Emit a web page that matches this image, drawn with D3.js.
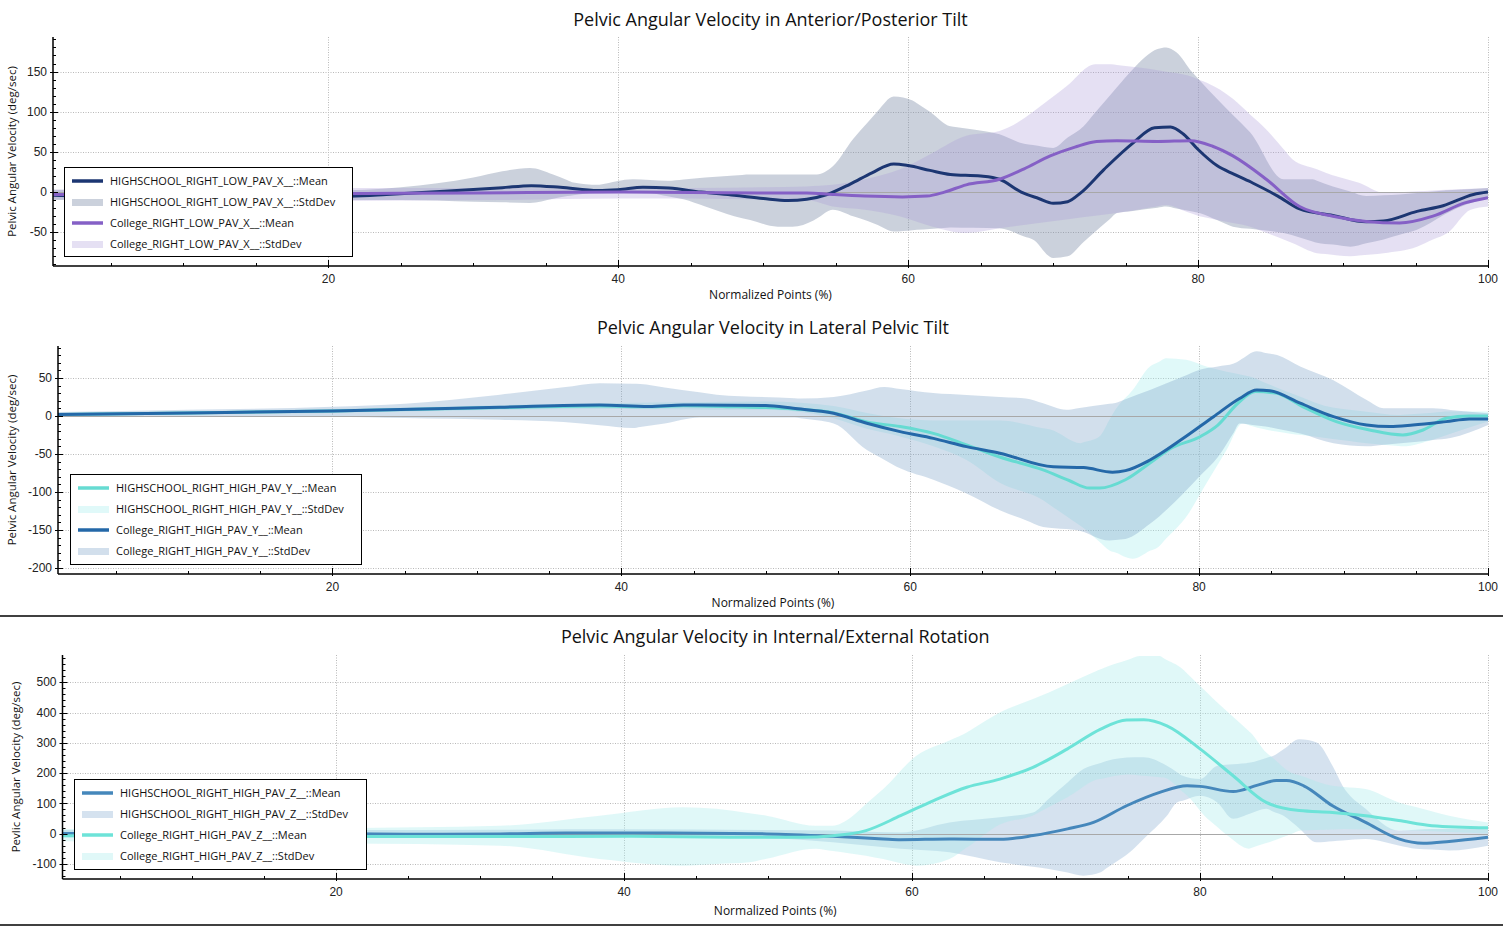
<!DOCTYPE html>
<html><head><meta charset="utf-8">
<script src="https://cdn.jsdelivr.net/npm/d3@7"></script>
<style>body{margin:0;background:#fff;} svg{display:block;}</style>
</head><body><svg id="c" width="1503" height="926"></svg>
<script>
// ---------- DATA (normalized point %, deg/sec) ----------
const xTicks = [20, 40, 60, 80, 100];

// Panel 1 : Anterior/Posterior Tilt
const p1HsMean = [[1,-4],[5,-6],[10,-7],[15,-7],[20,-6],[24,-3],[28,1],[32,5.5],[34,8],[36,6],[38.6,2],[40,3],[41.7,6],[43.5,5],[45.7,0],[48,-4],[50,-8],[51.7,-10.5],[53,-9],[54.4,-3],[56,10],[57.5,24],[59,35],[60,33],[61.5,27],[62.9,22],[65,20],[66.3,16],[67.8,0],[69,-8],[70,-14],[71,-12],[71.9,-1],[73.5,28],[75.5,61],[77,80],[78.1,81],[79,72],[80,53],[81.3,33],[82.5,22],[83.8,11],[85.5,-5],[87,-21],[89.3,-29],[91.6,-37],[92.8,-36],[95.1,-24],[96.9,-17],[99,-3],[100,0]];
const p1HsUpper = [[1,3],[10,3],[20,2],[25,6],[30,18],[32,26],[33.9,30],[35.5,22],[36.9,12],[38.6,9],[41,16],[43.4,14],[46,18],[49.1,22],[53.7,22],[54.8,32],[56.2,66],[57.9,101],[59,119],[60.3,114],[61.5,100],[62.9,82],[64.5,78],[66.3,72],[68,60],[70,55],[72.1,82],[73.9,120],[75.5,153],[77.2,178],[77.8,180],[78.5,174],[79.6,149],[81.3,116],[83.6,74],[85.9,16],[87.9,16],[89.3,7],[91.6,-5],[93.9,-3],[97,2],[100,5]];
const p1HsLower = [[1,-10],[10,-10],[20,-10],[25,-10],[30,-12],[33.9,-13.5],[36.5,-5],[38.8,1],[42.2,-1],[44.5,-9],[48,-30],[51,-43],[52,-43],[53.5,-35],[54.8,-22],[57.2,-36],[59,-49],[60.6,-47],[63,-44],[66.3,-45],[68.6,-59],[70,-82],[71,-80],[72.8,-51],[74.4,-26],[77.8,-18],[80.1,-26],[82.4,-43],[85.9,-51],[88.2,-63],[90.5,-68],[92.8,-59],[95.1,-47],[97.2,-26],[100,-7]];
const p1ColMean = [[1,-3],[10,-3],[20,-2],[30,-1],[40,0],[50,-1],[53,-1],[54.8,-3],[57,-5],[59.6,-6],[61.3,-5],[62.5,0],[64,9],[66.3,16],[68,29],[69.8,45],[71.5,56],[73,63],[74.4,64],[77.2,63],[79.5,64],[81,57],[82.4,45],[84.7,16],[87,-18],[89.3,-30],[91.6,-36.5],[93.9,-38.5],[96.2,-30],[98.4,-13.5],[100,-7]];
const p1ColUpper = [[1,3],[10,4],[20,5],[31.9,5],[40,4],[50,6],[53,7],[54.8,9],[57,16],[59.4,28],[61.7,49],[64,70],[66.3,76],[69.8,116],[72.9,159],[74,159],[76.8,153],[79.3,145],[80.6,136],[82.4,116],[84.7,78],[86.5,41],[88.8,24],[91.1,11.5],[92.8,-1],[96.2,2],[100,5]];
const p1ColLower = [[1,-9],[10,-10],[20,-11],[31.9,-10],[40,-8],[45,-8],[53,-10],[54.8,-18],[57,-22],[59.4,-30],[61.7,-43],[64,-51],[66.3,-45],[70.9,-34],[74.4,-26],[77.8,-16],[80.1,-30],[83.6,-43],[85.9,-59],[88.2,-76],[90.5,-80],[92.8,-76],[95.1,-68],[97.2,-51],[98.8,-22],[100,-18]];

// Panel 2 : Lateral Pelvic Tilt
const p2HsMean = [[1,2],[10,4],[20,6.5],[31.6,11],[38.5,13],[41.9,12],[44.3,13.5],[48,12],[50,11],[52,9],[54.7,4],[57,-8],[59.3,-14],[61.6,-23],[63.9,-38],[66.2,-54],[69.2,-71],[71,-85],[72.4,-95],[73.1,-95],[74.9,-84],[76.6,-62],[78,-43],[80.1,-27],[81.3,-12],[82.7,17],[83.9,32],[85.3,30],[87.2,12],[89.5,-7.5],[91.8,-18.5],[94.1,-25],[95.5,-18.5],[97.1,-3],[98.7,0],[100,0]];
const p2HsUpper = [[1,4],[10,6],[20,9],[31.6,14],[40,17],[45,18],[50,19],[54.7,13],[57,4],[59.3,-3],[61.6,-6],[63.9,-6],[66.2,-6],[69.7,-18],[71.8,-36],[73.1,-27],[74.2,8],[75.4,34],[76.6,65],[77.7,76],[79.1,74],[80.5,65],[81.9,58],[83.5,52],[85.8,34],[88.1,17],[90.4,8],[93.8,1.3],[97.3,5.7],[100,5.7]];
const p2HsLower = [[1,0],[10,2],[20,4],[31.6,8],[40,9],[50,8],[54.7,-3],[57,-17],[59.3,-27],[61.6,-40],[63.9,-58],[66.2,-88],[69.2,-111],[71.9,-146],[73.8,-177],[75.4,-188],[77.2,-172],[79.1,-133],[80.5,-89],[81.9,-45],[83,-10],[84.6,-18],[86.2,-23],[88,-27],[91.6,-36],[94.1,-40],[96.2,-31],[100,-7.5]];
const p2ColMean = [[1,2],[10,4],[20,6.5],[31.6,11.5],[38.5,14.5],[41.9,12.5],[44.3,14.5],[50,13.6],[51.9,10],[54.7,3.5],[57,-9.7],[59.3,-20.7],[61.6,-29.5],[63.9,-40.4],[66.2,-49],[69.9,-67],[72,-68],[74,-74],[74.9,-72],[76.6,-58],[78.9,-29.5],[81,-1],[82.8,23],[84,34],[84.9,33],[87,16.7],[89.3,-1],[91.6,-12],[93.2,-14],[94.8,-12],[97.1,-7.5],[98.7,-4],[100,-4]];
const p2ColUpper = [[1,5],[10,8],[20,12],[25,16],[31.6,28],[38.5,43],[41.3,42],[46.6,28],[52.4,23],[54.7,25],[58.2,38],[61.6,30],[66.2,25],[68,23],[70.8,8],[74.2,17],[76.6,34],[80.1,61],[82.4,69],[84,85],[85.4,80],[87,65],[89.3,47],[91.6,21],[92.8,10],[96.2,10],[100,3.5]];
const p2ColLower = [[1,-1],[10,-1],[20,-1],[31.6,-5],[36,-8],[40.8,-16],[43,-10],[45.4,-2],[52,-2],[54.7,-10],[57,-45],[59.3,-69],[61.6,-84],[63.9,-102],[66.2,-124],[69.2,-146],[71.5,-150],[73.8,-164],[74.9,-162],[76.6,-142],[78.9,-102],[81.3,-54],[82.8,-10],[84.6,-14],[87,-23],[89.3,-36],[91.6,-40],[95.1,-34],[97.4,-29],[100,-12]];

// Panel 3 : Internal/External Rotation
const p3HsMean = [[1,0],[10,0],[20,0],[25,-2],[31.4,-1],[36,2],[43,2],[49.9,-1],[54.5,-9],[58,-17.6],[59.2,-20],[62.6,-18],[66.1,-19],[68.4,-6.6],[70.8,15.5],[72.6,37],[74.9,92],[77.2,136],[79.1,158],[80,156],[82.3,139],[84,160],[85.3,175],[86,175],[87.2,158],[89.2,92],[91.5,37],[93.8,-17.5],[95.5,-32],[97.3,-26],[100,-12]];
const p3HsUpper = [[1,12],[10,12],[20,12],[31.4,13],[40,14],[50,12],[54.5,10],[57,6],[59.2,4],[62.6,37],[66.1,54],[68.4,70],[70.8,169],[71.9,213],[73.5,240],[75.4,252],[76.1,252],[77.7,224],[78.8,191],[80,180],[81.2,224],[83.5,235],[85.1,257],[86.9,312],[88.1,301],[89.2,224],[89.9,158],[91.5,82],[93.8,10],[96.1,15],[100,15]];
const p3HsLower = [[1,-12],[10,-12],[20,-12],[31.4,-14],[40,-11],[50,-15],[54.5,-29],[59.2,-50],[62.6,-62],[66.1,-95],[69.5,-117],[71.9,-139],[73.1,-128],[75.4,-50],[77.7,59],[78.4,103],[80,125],[81.2,103],[82.3,49],[84.6,82],[85.8,59],[88.1,-29],[91.5,-18],[95,-50],[97.3,-56],[100,-40]];
const p3ColMean = [[1,-7],[10,-8],[20,-10],[31.4,-10],[40.5,-9],[47.6,-12],[52.3,-12],[54.5,-7],[56.8,10],[59.2,59],[61.5,109],[63.8,153],[66.1,180],[68.4,219],[70.8,280],[73.1,345],[74.9,375],[76.1,376],[77.7,356],[80,280],[82.3,191],[84.6,103],[86.9,76],[89.2,70],[91.5,59],[93.8,43],[96.1,26],[100,19]];
const p3ColUpper = [[1,15],[10,15],[20,18],[31.4,26],[38.3,59],[44.1,87],[46.4,82],[49.9,59],[53.3,26],[54.5,26],[55.6,48],[58,147],[60.3,257],[63.8,334],[66.1,400],[69.5,466],[73.1,543],[75.8,587],[77.2,587],[78.8,543],[81.2,433],[83.5,334],[84.6,268],[86.3,202],[89.2,158],[91.5,147],[93.8,103],[97.3,59],[100,37]];
const p3ColLower = [[1,-25],[10,-28],[20,-32],[31.4,-40],[38.3,-84],[44.1,-106],[48.7,-95],[53.3,-50],[56.8,-73],[60.3,-106],[62.6,-84],[64,-40],[66.1,30],[68.4,60],[70.8,120],[73,180],[75,195],[77.5,185],[79,130],[80.5,50],[82,-10],[83.4,-50],[85,-25],[87,10],[90,15],[95,10],[100,0]];

const p1YTicks = [-50, 0, 50, 100, 150];
const p2YTicks = [-200, -150, -100, -50, 0, 50];
const p3YTicks = [-100, 0, 100, 200, 300, 400, 500];

// ---------- CONFIG ----------
const FONT = "'Open Sans', 'Noto Sans', sans-serif";
const panels = [
  { title: "Pelvic Angular Velocity in Anterior/Posterior Tilt",
    ylabel: "Pelvic Angular Velocity (deg/sec)",
    left: 53, right: 1488, top: 37, bottom: 266, yDomain: [-92, 193], yTicks: p1YTicks, yMinor: 10,
    titleY: 20, xlabelY: 295, ylabelX: 12,
    legend: { x: 64, y: 167, w: 288, h: 89 },
    items: [
      { name: "HIGHSCHOOL_RIGHT_LOW_PAV_X__::Mean", type: "line", data: p1HsMean, color: "#1c3672" },
      { name: "HIGHSCHOOL_RIGHT_LOW_PAV_X__::StdDev", type: "band", upper: p1HsUpper, lower: p1HsLower, color: "#7d8ca8", op: 0.4 },
      { name: "College_RIGHT_LOW_PAV_X__::Mean", type: "line", data: p1ColMean, color: "#8560c6" },
      { name: "College_RIGHT_LOW_PAV_X__::StdDev", type: "band", upper: p1ColUpper, lower: p1ColLower, color: "#a898d8", op: 0.3 }
    ] },
  { title: "Pelvic Angular Velocity in Lateral Pelvic Tilt",
    ylabel: "Pelvic Angular Velocity (deg/sec)",
    left: 58, right: 1488, top: 346, bottom: 574, yDomain: [-208, 92], yTicks: p2YTicks, yMinor: 10,
    titleY: 328, xlabelY: 603, ylabelX: 12,
    legend: { x: 70, y: 474, w: 291, h: 90 },
    items: [
      { name: "HIGHSCHOOL_RIGHT_HIGH_PAV_Y__::Mean", type: "line", data: p2HsMean, color: "#66dbd2" },
      { name: "HIGHSCHOOL_RIGHT_HIGH_PAV_Y__::StdDev", type: "band", upper: p2HsUpper, lower: p2HsLower, color: "#a0eeee", op: 0.33 },
      { name: "College_RIGHT_HIGH_PAV_Y__::Mean", type: "line", data: p2ColMean, color: "#2468a8" },
      { name: "College_RIGHT_HIGH_PAV_Y__::StdDev", type: "band", upper: p2ColUpper, lower: p2ColLower, color: "#7fa3c8", op: 0.35 }
    ] },
  { title: "Pelvic Angular Velocity in Internal/External Rotation",
    ylabel: "Pevlic Angular Velocity (deg/sec)",
    left: 62.5, right: 1488, top: 655, bottom: 879, yDomain: [-150, 590], yTicks: p3YTicks, yMinor: 20,
    titleY: 637, xlabelY: 911, ylabelX: 16,
    legend: { x: 74, y: 779, w: 292, h: 90 },
    items: [
      { name: "HIGHSCHOOL_RIGHT_HIGH_PAV_Z__::Mean", type: "line", data: p3HsMean, color: "#4587bb" },
      { name: "HIGHSCHOOL_RIGHT_HIGH_PAV_Z__::StdDev", type: "band", upper: p3HsUpper, lower: p3HsLower, color: "#8aaed4", op: 0.36 },
      { name: "College_RIGHT_HIGH_PAV_Z__::Mean", type: "line", data: p3ColMean, color: "#6de3d8" },
      { name: "College_RIGHT_HIGH_PAV_Z__::StdDev", type: "band", upper: p3ColUpper, lower: p3ColLower, color: "#a6ecea", op: 0.35 }
    ] }
];

// ---------- DRAW ----------
const svg = d3.select("#c");
svg.append("rect").attr("width", 1503).attr("height", 926).attr("fill", "#fff");

// separators
[616, 925].forEach(y => svg.append("line").attr("x1", 0).attr("x2", 1503).attr("y1", y).attr("y2", y)
  .attr("stroke", "#000").attr("stroke-width", 1.5));

function interp(arr, x) {
  const xs = arr.map(d => d[0]);
  const i = d3.bisectLeft(xs, x);
  if (i <= 0) return arr[0][1];
  if (i >= arr.length) return arr[arr.length - 1][1];
  const a = arr[i - 1], b = arr[i];
  return a[1] + (b[1] - a[1]) * (x - a[0]) / (b[0] - a[0]);
}

panels.forEach((p, pi) => {
  const g = svg.append("g");
  const x = d3.scaleLinear().domain([1, 100]).range([p.left, p.right]);
  const y = d3.scaleLinear().domain(p.yDomain).range([p.bottom, p.top]);
  const clipId = "clip" + pi;
  g.append("clipPath").attr("id", clipId).append("rect")
    .attr("x", p.left).attr("y", p.top).attr("width", p.right - p.left).attr("height", p.bottom - p.top);

  // grid
  const grid = g.append("g").attr("stroke", "#b9b9b9").attr("stroke-width", 1).attr("stroke-dasharray", "1,1.5");
  p.yTicks.filter(t => t !== 0).forEach(t => grid.append("line")
    .attr("x1", p.left).attr("x2", p.right).attr("y1", Math.round(y(t)) + 0.5).attr("y2", Math.round(y(t)) + 0.5));
  xTicks.forEach(t => grid.append("line")
    .attr("x1", Math.round(x(t)) + 0.5).attr("x2", Math.round(x(t)) + 0.5).attr("y1", p.top).attr("y2", p.bottom));

  const plot = g.append("g").attr("clip-path", `url(#${clipId})`);
  const curve = d3.curveMonotoneX;

  // bands
  p.items.filter(s => s.type === "band").forEach(s => {
    const xsAll = Array.from(new Set(s.upper.map(d => d[0]).concat(s.lower.map(d => d[0])))).sort((a, b) => a - b);
    const rows = xsAll.map(xx => ({ x: xx, hi: interp(s.upper, xx), lo: interp(s.lower, xx) }));
    const area = d3.area().x(d => x(d.x)).y0(d => y(d.lo)).y1(d => y(d.hi)).curve(curve);
    plot.append("path").datum(rows).attr("d", area).attr("fill", s.color).attr("fill-opacity", s.op);
  });

  // zero line
  plot.append("line").attr("x1", p.left).attr("x2", p.right)
    .attr("y1", Math.round(y(0)) + 0.5).attr("y2", Math.round(y(0)) + 0.5)
    .attr("stroke", "#a8a8a8").attr("stroke-width", 1);

  // mean lines
  p.items.filter(s => s.type === "line").forEach(s => {
    const line = d3.line().x(d => x(d[0])).y(d => y(d[1])).curve(curve);
    plot.append("path").datum(s.data).attr("d", line).attr("fill", "none")
      .attr("stroke", s.color).attr("stroke-width", 3).attr("stroke-linejoin", "round");
  });

  // axes
  const ax = g.append("g").attr("stroke", "#000");
  ax.append("line").attr("x1", p.left).attr("x2", p.left).attr("y1", p.top).attr("y2", p.bottom).attr("stroke-width", 1.5);
  ax.append("line").attr("x1", p.left).attr("x2", p.right).attr("y1", p.bottom).attr("y2", p.bottom).attr("stroke-width", 1.5);
  const yMinorTicks = d3.range(Math.ceil(p.yDomain[0] / p.yMinor) * p.yMinor, p.yDomain[1], p.yMinor);
  yMinorTicks.forEach(t => {
    const major = p.yTicks.includes(t);
    ax.append("line").attr("x1", p.left - (major ? 3 : 0)).attr("x2", p.left + (major ? 5 : 3))
      .attr("y1", Math.round(y(t)) + 0.5).attr("y2", Math.round(y(t)) + 0.5).attr("stroke-width", 1);
  });
  p.yTicks.forEach(t => g.append("text").attr("x", p.left - 6).attr("y", y(t)).attr("dy", "0.35em")
    .attr("text-anchor", "end").attr("font-family", "'Liberation Sans', Arial, sans-serif").attr("font-size", 12)
    .attr("fill", "#222").text(t));
  d3.range(5, 101, 5).forEach(t => {
    const major = xTicks.includes(t);
    ax.append("line").attr("x1", Math.round(x(t)) + 0.5).attr("x2", Math.round(x(t)) + 0.5)
      .attr("y1", p.bottom - (major ? 6 : 3)).attr("y2", p.bottom + (major ? 2 : 0)).attr("stroke-width", 1);
  });
  xTicks.forEach(t => g.append("text").attr("x", x(t)).attr("y", p.bottom + 13).attr("dy", "0.35em")
    .attr("text-anchor", "middle").attr("font-family", "'Liberation Sans', Arial, sans-serif").attr("font-size", 12)
    .attr("fill", "#222").text(t));

  // titles
  const cx = (p.left + p.right) / 2;
  g.append("text").attr("x", cx).attr("y", p.titleY).attr("dy", "0.35em").attr("text-anchor", "middle")
    .attr("font-family", FONT).attr("font-size", 18).attr("fill", "#111").text(p.title);
  g.append("text").attr("x", cx).attr("y", p.xlabelY).attr("dy", "0.35em").attr("text-anchor", "middle")
    .attr("font-family", FONT).attr("font-size", 12).attr("fill", "#111").text("Normalized Points (%)");
  const cy = (p.top + p.bottom) / 2;
  g.append("text").attr("transform", `translate(${p.ylabelX},${cy}) rotate(-90)`).attr("dy", "0.35em")
    .attr("text-anchor", "middle").attr("font-family", FONT).attr("font-size", 11.5).attr("fill", "#111").text(p.ylabel);

  // legend
  const L = p.legend;
  const lg = g.append("g");
  lg.append("rect").attr("x", L.x + 0.5).attr("y", L.y + 0.5).attr("width", L.w).attr("height", L.h)
    .attr("fill", "#fff").attr("stroke", "#000").attr("stroke-width", 1);
  p.items.forEach((s, i) => {
    const ry = L.y + 14 + i * 21;
    if (s.type === "line") {
      lg.append("line").attr("x1", L.x + 8).attr("x2", L.x + 39).attr("y1", ry).attr("y2", ry)
        .attr("stroke", s.color).attr("stroke-width", 3.5);
    } else {
      lg.append("rect").attr("x", L.x + 8).attr("y", ry - 3).attr("width", 31).attr("height", 7)
        .attr("fill", s.color).attr("fill-opacity", s.op);
    }
    lg.append("text").attr("x", L.x + 46).attr("y", ry).attr("dy", "0.35em").attr("font-family", FONT)
      .attr("font-size", 11).attr("fill", "#111").text(s.name);
  });
});
</script>
</body></html>
